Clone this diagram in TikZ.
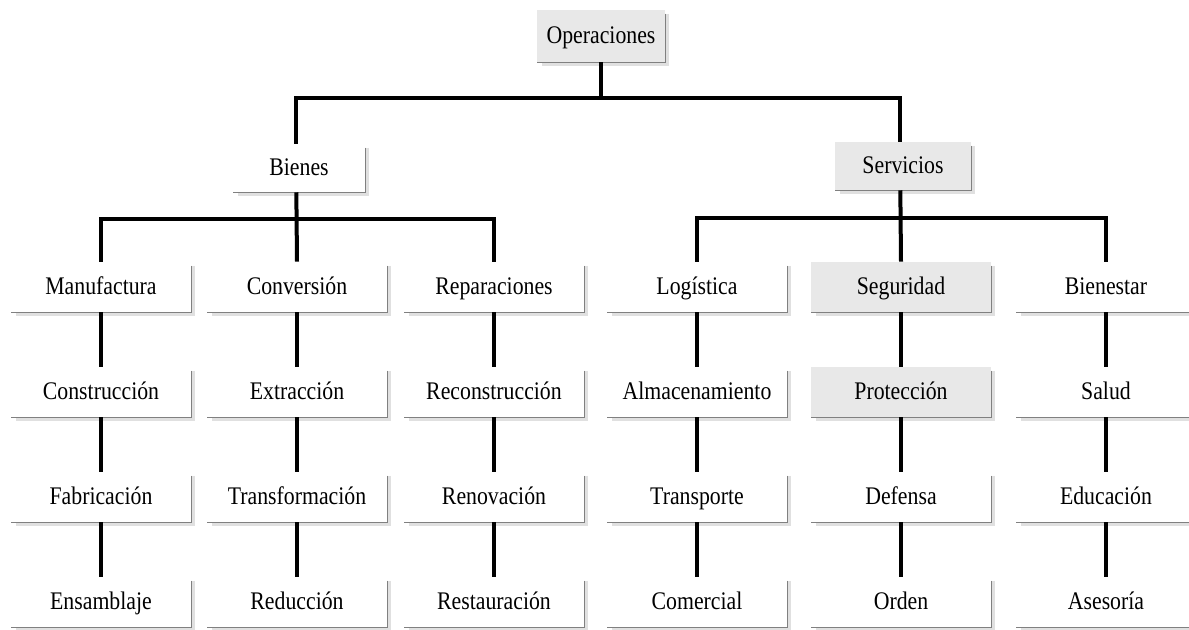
\documentclass[tikz,border=0pt]{standalone}
\usepackage{fontspec}
\setmainfont{Liberation Serif}[FakeStretch=0.86]
\begin{document}
\begin{tikzpicture}[x=0.75pt,y=-0.75pt,
  box/.style={minimum width=135pt, minimum height=37.5pt, inner sep=0pt,
    text height=14.2pt, text depth=2.8pt,
    font=\fontsize{19}{21}\selectfont, fill=white},
  graybox/.style={box, fill=black!9},
  shadowedge/.style={draw=black!12, line width=2.4pt},
  rimedge/.style={draw=black!50, line width=1pt},
  link/.style={line width=3pt, black, line cap=butt}]
\useasboundingbox (0,0) rectangle (1189,630);

% top level
\node[graybox, minimum width=96pt, minimum height=39pt] (op) at (601,36) {Operaciones};
\node[box, minimum width=99pt, minimum height=36pt] (bienes) at (299,168) {Bienes};
\node[graybox, minimum width=102pt, minimum height=36pt] (serv) at (903,166) {Servicios};

\coordinate (bar0) at (0,98);
\coordinate (bar1) at (0,219);
\coordinate (bar2) at (0,218);

% goods branch
\node[box] (manu)  at (101,287) {Manufactura};
\node[box] (cons)  at (101,392) {Construcción};
\node[box] (fabr)  at (101,497) {Fabricación};
\node[box] (ensa)  at (101,602) {Ensamblaje};

\node[box] (conv)  at (297,287) {Conversión};
\node[box] (extr)  at (297,392) {Extracción};
\node[box] (trans) at (297,497) {Transformación};
\node[box] (redu)  at (297,602) {Reducción};

\node[box] (repa)  at (494,287) {Reparaciones};
\node[box] (reco)  at (494,392) {Reconstrucción};
\node[box] (reno)  at (494,497) {Renovación};
\node[box] (rest)  at (494,602) {Restauración};

% services branch
\node[box] (logi)  at (697,287) {Logística};
\node[box] (alma)  at (697,392) {Almacenamiento};
\node[box] (tran)  at (697,497) {Transporte};
\node[box] (come)  at (697,602) {Comercial};

\node[graybox] (segu) at (901,287) {Seguridad};
\node[graybox] (prot) at (901,392) {Protección};
\node[box] (defe)  at (901,497) {Defensa};
\node[box] (orde)  at (901,602) {Orden};

\node[box] (bien)  at (1106,287) {Bienestar};
\node[box] (salu)  at (1106,392) {Salud};
\node[box] (educ)  at (1106,497) {Educación};
\node[box] (ases)  at (1106,602) {Asesoría};

% raised rim of every box: soft shadow plus a darker right and bottom edge
\foreach \n in {op, bienes, serv,
                manu, cons, fabr, ensa, conv, extr, trans, redu,
                repa, reco, reno, rest, logi, alma, tran, come,
                segu, prot, defe, orde, bien, salu, educ, ases} {
  \draw[shadowedge] ([xshift=1.6pt,yshift=-3pt]\n.north east)
        -- ([xshift=1.6pt,yshift=-1.6pt]\n.south east)
        -- ([xshift=4pt,yshift=-1.6pt]\n.south west);
  \draw[rimedge] ([yshift=-3pt]\n.north east) -- (\n.south east) -- (\n.south west);
}

% connectors
\draw[link] (op.south) -- (op.south |- bar0);
\draw[link] ([xshift=-2pt]bienes.north) -- ([xshift=-2pt]bienes.north |- bar0)
  -- ([xshift=-2pt]serv.north |- bar0) -- ([xshift=-2pt]serv.north);

\draw[link] ([xshift=-2pt]bienes.south) -- (conv.north);
\draw[link] (manu.north) -- (manu.north |- bar1) -- (repa.north |- bar1) -- (repa.north);

\draw[link] ([xshift=-2pt]serv.south) -- (segu.north);
\draw[link] (logi.north) -- (logi.north |- bar2) -- (bien.north |- bar2) -- (bien.north);

\foreach \a/\b in {manu/cons, cons/fabr, fabr/ensa,
                   conv/extr, extr/trans, trans/redu,
                   repa/reco, reco/reno, reno/rest,
                   logi/alma, alma/tran, tran/come,
                   segu/prot, prot/defe, defe/orde,
                   bien/salu, salu/educ, educ/ases}
  \draw[link] (\a.south) -- (\b.north);
\end{tikzpicture}
\end{document}
